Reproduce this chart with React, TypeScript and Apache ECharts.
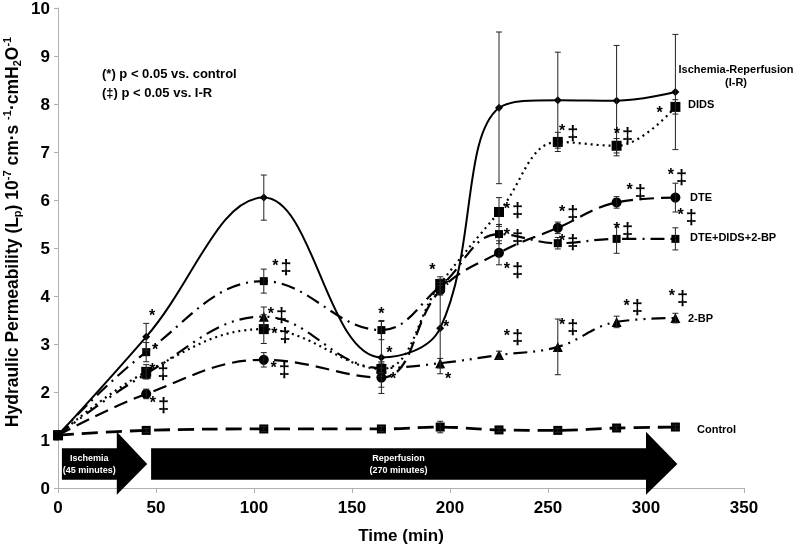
import React, { useEffect, useRef } from "react";
import * as echarts from "echarts";

// ---------- data ----------
const times = [0, 45, 105, 165, 195, 225, 255, 285, 315];

const irValues = [1.1, 3.15, 6.05, 2.72, 3.33, 7.92, 8.08, 8.07, 8.25];
const irErr = [0.05, 0.28, 0.47, 0.75, 0.95, 1.58, 1.0, 1.15, 1.2];

const didsValues = [1.1, 2.42, 3.31, 2.48, 4.25, 5.75, 7.21, 7.13, 7.94];
const didsErr = [0.05, 0.15, 0.3, 0.15, 0.15, 0.3, 0.2, 0.15, 0.15];

const dteValues = [1.1, 1.96, 2.67, 2.3, 4.12, 4.9, 5.42, 5.95, 6.05];
const dteErr = [0.05, 0.1, 0.15, 0.2, 0.1, 0.25, 0.12, 0.12, 0.3];

const comboValues = [1.1, 2.83, 4.31, 3.29, 4.2, 5.29, 5.1, 5.19, 5.19];
const comboErr = [0.05, 0.2, 0.25, 0.2, 0.15, 0.2, 0.12, 0.3, 0.23];

const bpValues = [1.1, 2.38, 3.57, 2.5, 2.6, 2.77, 2.94, 3.46, 3.54];
const bpErr = [0.05, 0.1, 0.2, 0.1, 0.1, 0.08, 0.58, 0.12, 0.1];

const controlValues = [1.1, 1.2, 1.23, 1.23, 1.27, 1.21, 1.2, 1.25, 1.27];
const controlErr = [0.03, 0.04, 0.05, 0.05, 0.12, 0.04, 0.04, 0.04, 0.04];

// significance marks: [time, value, text]
const starMarks: [number, number, string][] = [
  [48, 3.55, "*"],
  [49.5, 2.85, "*"],
  [165, 3.59, "*"],
  [169, 2.78, "*"],
  [171, 2.24, "*"],
  [191, 4.51, "*"],
  [198, 4.18, "*"],
  [198, 3.33, "*"],
  [199, 2.24, "*"],
  [307, 7.79, "*"],
];
const starDaggerMarks: [number, number, string][] = [
  [51.5, 2.42, "*‡"],
  [51.7, 1.73, "*‡"],
  [114.3, 4.6, "*‡"],
  [112, 3.6, "*‡"],
  [113.7, 3.18, "*‡"],
  [113.3, 2.46, "*‡"],
  [232.4, 5.79, "*‡"],
  [232.4, 5.23, "*‡"],
  [232.4, 4.54, "*‡"],
  [232.4, 3.14, "*‡"],
  [260.5, 7.4, "*‡"],
  [260.5, 5.72, "*‡"],
  [260.5, 5.12, "*‡"],
  [260.5, 3.36, "*‡"],
  [288.5, 7.35, "*‡"],
  [295, 6.17, "*‡"],
  [288.5, 5.37, "*‡"],
  [293.5, 3.77, "*‡"],
  [316, 6.48, "*‡"],
  [321, 5.65, "*‡"],
  [316.5, 3.96, "*‡"],
];

// protocol arrows: start, body end, tip (minutes)
const arrowStarts = [2, 47.5];
const arrowBodyEnds = [30, 300];
const arrowTips = [45.5, 316];
const arrowTitles = ["Ischemia", "Reperfusion"];
const arrowSubtitles = ["(45 minutes)", "(270 minutes)"];

const xTicks = { min: 0, max: 350, interval: 50 };
const yTicks = { min: 0, max: 10, interval: 1 };

const FONT = "Liberation Sans, Arial, sans-serif";

const seriesDefs = [
  { name: "Ischemia-Reperfusion", values: irValues, err: irErr, symbol: "diamond", size: 8, dash: "solid" as any, width: 2 },
  { name: "DIDS", values: didsValues, err: didsErr, symbol: "rect", size: 10, dash: [2, 4] as any, width: 2.2 },
  { name: "DTE", values: dteValues, err: dteErr, symbol: "circle", size: 10, dash: [14, 7] as any, width: 2.2 },
  { name: "DTE+DIDS+2-BP", values: comboValues, err: comboErr, symbol: "rect", size: 8, dash: [14, 6, 2, 6] as any, width: 2.2 },
  { name: "2-BP", values: bpValues, err: bpErr, symbol: "triangle", size: 10, dash: [14, 6, 2, 6, 2, 6] as any, width: 2.2 },
  { name: "Control", values: controlValues, err: controlErr, symbol: "rect", size: 9, dash: [16, 8] as any, width: 2.8 },
];

export default function App() {
  const ref = useRef<HTMLDivElement>(null);
  useEffect(() => {
    if (!ref.current) return;
    const chart = echarts.init(ref.current, undefined, { renderer: "svg" });

    const lineSeries = seriesDefs.map((d) => ({
      type: "line",
      name: d.name,
      data: times.map((t, i) => [t, d.values[i]]),
      smooth: 0.4,
      symbol: d.symbol,
      symbolSize: d.size,
      itemStyle: { color: "#000" },
      lineStyle: { color: "#000", width: d.width, type: d.dash },
      z: 3,
    }));

    const errData: number[][] = [];
    seriesDefs.forEach((d) => {
      times.forEach((t, i) => {
        if (i === 0) return;
        errData.push([t, d.values[i] - d.err[i], d.values[i] + d.err[i]]);
      });
    });

    const errSeries = {
      type: "custom",
      name: "err",
      data: errData,
      encode: { x: 0, y: [1, 2] },
      clip: false,
      z: 4,
      renderItem: (params: any, api: any) => {
        const x = api.value(0);
        const lo = api.coord([x, api.value(1)]);
        const hi = api.coord([x, api.value(2)]);
        const w = 3;
        const st = { stroke: "#222", lineWidth: 1 };
        return {
          type: "group",
          children: [
            { type: "line", shape: { x1: lo[0], y1: lo[1], x2: hi[0], y2: hi[1] }, style: st },
            { type: "line", shape: { x1: lo[0] - w, y1: lo[1], x2: lo[0] + w, y2: lo[1] }, style: st },
            { type: "line", shape: { x1: hi[0] - w, y1: hi[1], x2: hi[0] + w, y2: hi[1] }, style: st },
          ],
        };
      },
    };

    const arrowSeries = {
      type: "custom",
      name: "arrows",
      data: arrowStarts.map((s, i) => [s, arrowBodyEnds[i], arrowTips[i]]),
      encode: { x: [0, 1, 2] },
      clip: false,
      z: 1,
      renderItem: (params: any, api: any) => {
        const s = api.value(0);
        const b = api.value(1);
        const tp = api.value(2);
        const c = (x: number, y: number) => api.coord([x, y]);
        const pts = [
          c(s, 0.83),
          c(b, 0.83),
          c(b, 1.17),
          c(tp, 0.5),
          c(b, -0.14),
          c(b, 0.17),
          c(s, 0.17),
        ];
        const mid = c((s + b) / 2, 0.5);
        const i = params.dataIndex;
        return {
          type: "group",
          children: [
            { type: "polygon", shape: { points: pts }, style: { fill: "#000" } },
            {
              type: "text",
              x: mid[0],
              y: mid[1] - 6,
              style: {
                text: arrowTitles[i],
                fill: "#fff",
                font: `bold 9px ${FONT}`,
                align: "center",
                verticalAlign: "middle",
              },
            },
            {
              type: "text",
              x: mid[0],
              y: mid[1] + 6,
              style: {
                text: arrowSubtitles[i],
                fill: "#fff",
                font: `bold 9px ${FONT}`,
                align: "center",
                verticalAlign: "middle",
              },
            },
          ],
        };
      },
    };

    const markSeries = (data: [number, number, string][], name: string) => ({
      type: "scatter",
      name,
      data,
      symbolSize: 1,
      itemStyle: { color: "rgba(0,0,0,0)" },
      z: 5,
      label: {
        show: true,
        position: "inside",
        formatter: (p: any) =>
          p.data[2]
            .split("")
            .map((ch: string) => (ch === "*" ? "{s|*}" : "{d|‡}"))
            .join(""),
        color: "#000",
        opacity: 1,
        rich: {
          s: { fontFamily: FONT, fontWeight: "bold", fontSize: 16, color: "#000", verticalAlign: "top", lineHeight: 20 },
          d: { fontFamily: FONT, fontWeight: "bold", fontSize: 20, color: "#000", padding: [0, 0, 0, 2], lineHeight: 20 },
        },
      },
    });

    const rightLabel = (text: string, x: number, y: number, align = "left") => ({
      type: "text",
      x,
      y,
      style: {
        text,
        fill: "#000",
        font: `bold 11px ${FONT}`,
        align,
        verticalAlign: "middle",
      },
    });

    const yTitleRich = {
      m: { fontFamily: FONT, fontWeight: "bold", fontSize: 17.5, fill: "#000", lineHeight: 21 },
      sup: { fontFamily: FONT, fontWeight: "bold", fontSize: 11, fill: "#000", verticalAlign: "top" },
      sub: { fontFamily: FONT, fontWeight: "bold", fontSize: 11, fill: "#000", verticalAlign: "bottom" },
    };

    chart.setOption({
      animation: false,
      grid: { left: 58, right: 56, top: 8, bottom: 58, containLabel: false, outerBoundsMode: "none" },
      xAxis: {
        type: "value",
        min: xTicks.min,
        max: xTicks.max,
        interval: xTicks.interval,
        name: "Time (min)",
        nameLocation: "middle",
        nameGap: 39,
        nameTextStyle: { fontFamily: FONT, fontWeight: "bold", fontSize: 17, color: "#000" },
        axisLine: { lineStyle: { color: "#b0b0b0", width: 1 } },
        axisTick: { show: true, length: 5, lineStyle: { color: "#b0b0b0" } },
        axisLabel: { fontFamily: FONT, fontWeight: "bold", fontSize: 17, color: "#000", margin: 11 },
        splitLine: { show: false },
      },
      yAxis: {
        type: "value",
        min: yTicks.min,
        max: yTicks.max,
        interval: yTicks.interval,
        axisLine: { show: true, lineStyle: { color: "#b0b0b0", width: 1 } },
        axisTick: { show: true, length: 4, lineStyle: { color: "#b0b0b0" } },
        axisLabel: { fontFamily: FONT, fontWeight: "bold", fontSize: 17, color: "#000", margin: 8 },
        splitLine: { show: false },
      },
      graphic: [
        {
          type: "text",
          x: 12,
          y: 232,
          rotation: Math.PI / 2,
          style: {
            text:
              "{m|Hydraulic Permeability (L}{sub|p}{m|) 10}{sup|-7}{m| cm·s }{sup|-1}{m|·cmH}{sub|2}{m|O}{sup|-1}",
            rich: yTitleRich,
            fill: "#000",
            align: "center",
            verticalAlign: "middle",
          },
        },
        {
          type: "text",
          left: 102,
          top: 64,
          style: {
            text: "(*) p < 0.05 vs. control\n(‡) p < 0.05 vs. I-R",
            fill: "#000",
            font: `bold 13px ${FONT}`,
            lineHeight: 19,
          },
        },
        rightLabel("Ischemia-Reperfusion", 736, 69, "center"),
        rightLabel("(I-R)", 736, 82, "center"),
        rightLabel("DIDS", 688, 104),
        rightLabel("DTE", 690, 197),
        rightLabel("DTE+DIDS+2-BP", 690, 237),
        rightLabel("2-BP", 688, 318),
        rightLabel("Control", 697, 429),
      ],
      series: [
        arrowSeries,
        ...lineSeries,
        errSeries,
        markSeries(starMarks, "stars"),
        markSeries(starDaggerMarks, "starDaggers"),
      ],
    });
    return () => chart.dispose();
  }, []);
  return (
    <div
      ref={ref}
      style={{ position: "fixed", left: 0, top: 0, width: 800, height: 546 }}
    />
  );
}
